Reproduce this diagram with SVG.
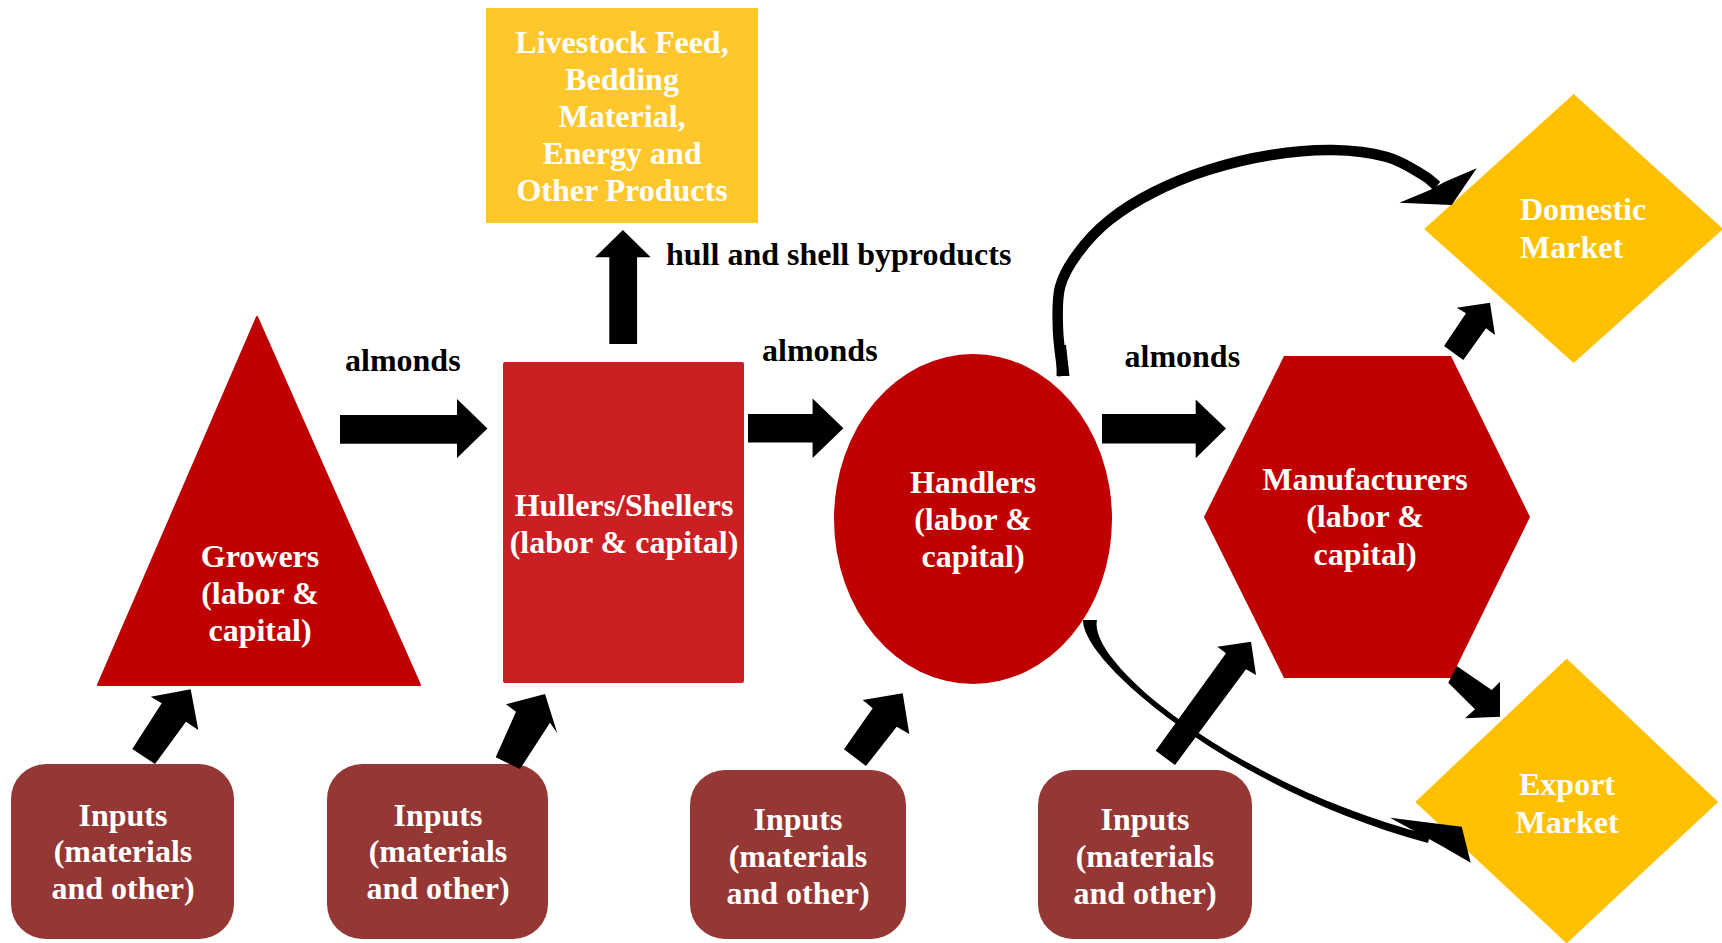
<svg xmlns="http://www.w3.org/2000/svg" width="1722" height="943" viewBox="0 0 1722 943">
<style>
.t{font-family:"Liberation Serif","Times New Roman",serif;font-weight:bold;font-size:32px}
.w{fill:#fff;text-anchor:middle}
.k{fill:#000}
.red{fill:#C00000}
.inp{fill:#953735}
.gold{fill:#FFC000}
.arr{fill:#000}
.crv{fill:none;stroke:#000;stroke-width:10.5;stroke-linecap:butt}
</style>
<rect width="1722" height="943" fill="#fff"/>

<g id="byproducts">
<rect x="486" y="8" width="272" height="215" fill="#FFC72C"/>
<text class="t w"><tspan x="622" y="53">Livestock Feed,</tspan><tspan x="622" y="90">Bedding</tspan><tspan x="622" y="127">Material,</tspan><tspan x="622" y="164">Energy and</tspan><tspan x="622" y="201">Other Products</tspan></text>
</g>

<g id="growers">
<polygon class="red" points="257,317 420,685 98,685" stroke="#C00000" stroke-width="2" stroke-linejoin="round"/>
<text class="t w"><tspan x="260" y="567">Growers</tspan><tspan x="260" y="604">(labor &amp;</tspan><tspan x="260" y="641">capital)</tspan></text>
</g>

<g id="hullers">
<rect x="503" y="362" width="241" height="321" rx="2" fill="#CC1F24"/>
<text class="t w"><tspan x="624" y="516">Hullers/Shellers</tspan><tspan x="624" y="553">(labor &amp; capital)</tspan></text>
</g>

<g id="handlers">
<ellipse class="red" cx="973" cy="519" rx="139" ry="165"/>
<text class="t w"><tspan x="973" y="493">Handlers</tspan><tspan x="973" y="530">(labor &amp;</tspan><tspan x="973" y="567">capital)</tspan></text>
</g>

<g id="manufacturers">
<polygon class="red" points="1284,356 1451,356 1530,517 1451,678 1284,678 1204,517"/>
<text class="t w"><tspan x="1365" y="490">Manufacturers</tspan><tspan x="1365" y="527">(labor &amp;</tspan><tspan x="1365" y="565">capital)</tspan></text>
</g>

<g id="domestic">
<polygon class="gold" points="1573.7,94 1723,229 1573.7,363 1424.2,229"/>
<text class="t" fill="#fff"><tspan x="1520" y="220">Domestic</tspan><tspan x="1520" y="258">Market</tspan></text>
</g>

<g id="export">
<polygon class="gold" points="1566.7,660 1716.7,802 1566.7,942 1416.7,802" stroke="#FFC000" stroke-width="2" stroke-linejoin="round"/>
<text class="t w"><tspan x="1567" y="795">Export</tspan><tspan x="1567" y="833">Market</tspan></text>
</g>

<g id="inputs1">
<rect class="inp" x="11" y="764" width="223" height="175" rx="35"/>
<text class="t w"><tspan x="123" y="826">Inputs</tspan><tspan x="123" y="862">(materials</tspan><tspan x="123" y="899">and other)</tspan></text>
</g>
<g id="inputs2">
<rect class="inp" x="327" y="764" width="221" height="175" rx="35"/>
<text class="t w"><tspan x="438" y="826">Inputs</tspan><tspan x="438" y="862">(materials</tspan><tspan x="438" y="899">and other)</tspan></text>
</g>
<g id="inputs3">
<rect class="inp" x="690" y="770" width="216" height="169" rx="35"/>
<text class="t w"><tspan x="798" y="830">Inputs</tspan><tspan x="798" y="867">(materials</tspan><tspan x="798" y="904">and other)</tspan></text>
</g>
<g id="inputs4">
<rect class="inp" x="1038" y="770" width="214" height="169" rx="35"/>
<text class="t w"><tspan x="1145" y="830">Inputs</tspan><tspan x="1145" y="867">(materials</tspan><tspan x="1145" y="904">and other)</tspan></text>
</g>

<g id="connectors">
<polygon class="arr" points="340,415 457,415 457,399 487.5,428.5 457,458 457,443.7 340,443.7"/>
<polygon class="arr" points="748,414 812.6,414 812.6,398.6 843.4,428.3 812.6,458 812.6,442.6 748,442.6"/>
<polygon class="arr" points="1102,414 1195.7,414 1195.7,399.6 1226,428.6 1195.7,458.3 1195.7,443.4 1102,443.4"/>
<polygon class="arr" points="609.3,344 609.3,257.3 595,257.3 622.9,230 650.7,257.3 637.1,257.3 637.1,344"/>
<polygon class="arr" points="132.3,749 161.7,703.3 150.7,696.7 190.7,689.3 198.3,730 186,721.7 155,764"/>
<polygon class="arr" points="495.7,757.3 516,711.7 506,704.3 545,694 557.3,733.3 550,722.7 520,769"/>
<polygon class="arr" points="844,749.3 872.7,708.3 862.7,700 902.7,693.3 909.3,734 896.7,726.7 866,766"/>
<polygon class="arr" points="1155.7,750.7 1226,653.3 1217.3,646.7 1251,641.7 1256,675 1246,669.3 1175,765"/>
<polygon class="arr" points="1444,346 1466,313.3 1456.7,307.7 1490,302.7 1495,335 1486,328.3 1463.3,360"/>
<polygon class="arr" points="1456.7,666 1491.7,690 1500,681.7 1500,716.7 1465,718.3 1475,709.3 1448.3,682.7"/>
<path class="crv" d="M1063,376 C1061.3,360.7 1058.5,344.8 1058,330 C1057.5,315.2 1056.7,299.8 1060,287 C1063.3,274.2 1069.75,264.2 1078,253 C1086.25,241.8 1096.8,230.2 1109.5,220 C1122.2,209.8 1137.6,200.3 1154,192 C1170.4,183.7 1188.5,176.2 1208,170 C1227.5,163.8 1250.2,158.3 1271,155 C1291.8,151.7 1313.7,149.7 1333,150 C1352.3,150.3 1372,152.8 1387,157 C1402,161.2 1414.7,170.2 1423,175 C1431.3,179.8 1432.3,182.3 1437,186"/>
<path class="arr" d="M1056.5,376 L1069.5,376 L1066,345 L1057,345 Z"/>
<polygon class="arr" points="1451.7,205 1399.3,202.7 1430,190 1445,181.7 1476.7,168.3"/>
<path class="arr" d="M1083,620 C1082.5,665 1239,793 1428,843 L1430,835 C1241,787 1087.5,665 1097,620 Z"/>
<polygon class="arr" points="1390,817.7 1418,833 1440,845 1470.7,862.7 1461.7,826.7"/>
</g>

<g id="labels">
<text class="t k" x="345" y="371">almonds</text>
<text class="t k" x="762" y="361">almonds</text>
<text class="t k" x="1124.5" y="367">almonds</text>
<text class="t k" x="666" y="265">hull and shell byproducts</text>
</g>
</svg>
